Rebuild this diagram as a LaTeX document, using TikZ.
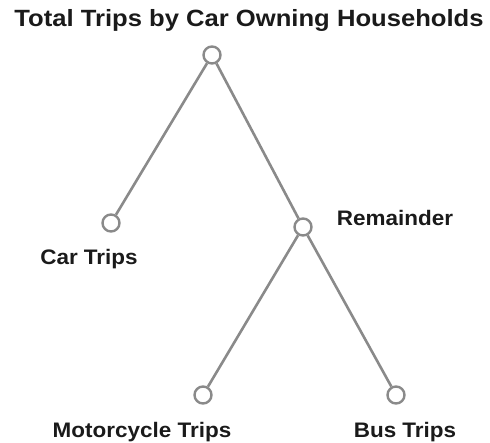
\documentclass[tikz,border=0pt]{standalone}
\usepackage{graphicx}
\usepackage{fontspec}
\setmainfont{Liberation Sans}
\definecolor{linegray}{HTML}{8A8A8A}
\definecolor{txt}{HTML}{1A1A1A}
\begin{document}
\begin{tikzpicture}[x=1pt,y=-1pt,
  dot/.style={circle,draw=linegray,line width=2.4pt,fill=white,minimum size=17pt,inner sep=0pt},
  branch/.style={draw=linegray,line width=2.6pt},
  lbl/.style={anchor=base,inner sep=0pt,text=txt,font=\fontsize{21}{21}\selectfont\bfseries},
  ttl/.style={anchor=base,inner sep=0pt,text=txt,font=\fontsize{23.5}{23.5}\selectfont\bfseries}]
\useasboundingbox (0,0) rectangle (490,443);
\node[ttl] (title) at (249,27) {\scalebox{1.09}[1]{Total Trips by Car Owning Households}};
\node[dot] (root) at (212,55) {};
\node[dot] (car) at (111,223) {};
\node[dot] (rem) at (303,227) {};
\node[dot] (moto) at (203,395) {};
\node[dot] (bus) at (396,395) {};
\draw[branch] (root) -- (car);
\draw[branch] (root) -- (rem);
\draw[branch] (rem) -- (moto);
\draw[branch] (rem) -- (bus);
\node[lbl] (carl) at (89,265) {\scalebox{1.07}[1]{Car Trips}};
\node[lbl] (reml) at (395,226) {\scalebox{1.07}[1]{Remainder}};
\node[lbl] (motol) at (142,437) {\scalebox{1.07}[1]{Motorcycle Trips}};
\node[lbl] (busl) at (405,437) {\scalebox{1.07}[1]{Bus Trips}};
\end{tikzpicture}
\end{document}
